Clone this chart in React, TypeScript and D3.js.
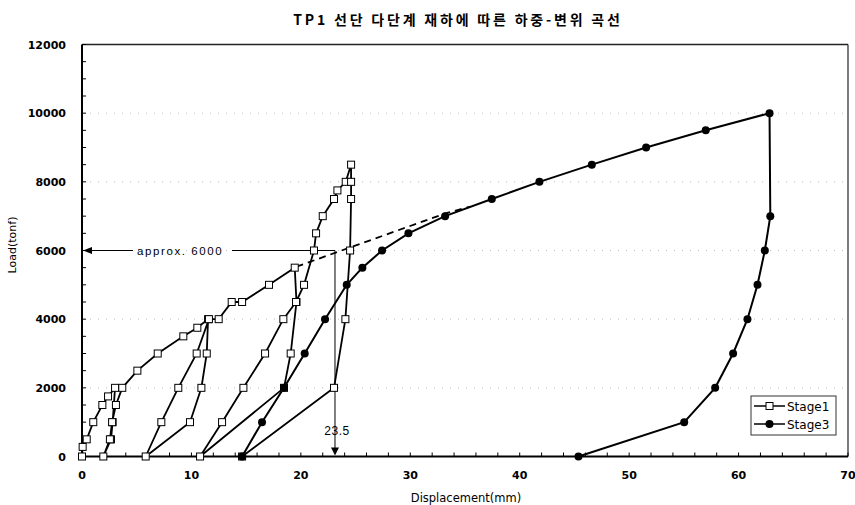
import React from "react";
import * as d3 from "d3";

const title = "TP1 선단 다단계 재하에 따른 하중-변위 곡선";
const xLabel = "Displacement(mm)";
const yLabel = "Load(tonf)";
const xTicks = [0, 10, 20, 30, 40, 50, 60, 70];
const yTicks = [0, 2000, 4000, 6000, 8000, 10000, 12000];
const gridLoads = [2000, 4000, 6000, 8000, 10000];

const stage1X = [0, 0.06, 0.43, 1.03, 1.86, 2.38, 3.02, 2.8, 2.65, 1.95, 2.55, 2.75, 3.1, 3.68,
  5.06, 6.92, 9.26, 10.54, 11.52, 11.4, 10.91, 9.87, 5.82, 7.25, 8.8, 10.48, 11.6, 12.49,
  13.68, 14.63, 17.09, 19.44, 19.6, 19.07, 18.46, 10.79, 12.8, 14.75, 16.73, 18.4, 19.56,
  20.29, 21.2, 21.39, 22.0, 23.03, 23.34, 24.1, 24.59, 24.59, 24.59, 24.5, 24.07, 23.03, 14.63];
const stage1Y = [0, 280, 500, 1000, 1500, 1750, 2000, 1000, 500, 0, 500, 1000, 1500, 2000,
  2500, 3000, 3500, 3750, 4000, 3000, 2000, 1000, 0, 1000, 2000, 3000, 4000, 4000,
  4500, 4500, 5000, 5500, 4500, 3000, 2000, 0, 1000, 2000, 3000, 4000, 4500,
  5000, 6000, 6500, 7000, 7500, 7750, 8000, 8500, 8000, 7500, 6000, 4000, 2000, 0];

const stage3X = [14.63, 16.45, 18.46, 20.35, 22.21, 24.19, 25.62, 27.42, 29.83, 33.18, 37.45,
  41.8, 46.59, 51.55, 57.0, 62.83, 62.9, 62.4, 61.73, 60.81, 59.5, 57.86, 55.03, 45.37];
const stage3Y = [0, 1000, 2000, 3000, 4000, 5000, 5500, 6000, 6500, 7000, 7500,
  8000, 8500, 9000, 9500, 10000, 7000, 6000, 5000, 4000, 3000, 2000, 1000, 0];

const dashX = [19.6, 33.2, 35.5];
const dashY = [5530, 7080, 7280];

const approxLoad = 6000;
const approxDisp = 23.12;
const approxText = "approx. 6000";
const dispText = "23.5";
const legendNames = ["Stage1", "Stage3"];

export default function App() {
  const W = 855, H = 505;
  const x = d3.scaleLinear().domain([0, 70]).range([82, 848]);
  const y = d3.scaleLinear().domain([0, 12000]).range([456.5, 44.5]);
  const s1 = stage1X.map((v, i) => [v, stage1Y[i]] as [number, number]);
  const s3 = stage3X.map((v, i) => [v, stage3Y[i]] as [number, number]);
  const dsh = dashX.map((v, i) => [v, dashY[i]] as [number, number]);
  const line = d3.line<[number, number]>().x(d => x(d[0])).y(d => y(d[1]));
  const x0 = x(0), x1 = x(70), y0 = y(0), y1 = y(12000);
  const minorY = d3.range(0, 12001, 500);
  const minorX = d3.range(0, 71, 2);
  const tickFont = "'DejaVu Sans', sans-serif";
  const ax = x(approxDisp), ay = y(approxLoad);
  return (
    <svg width={W} height={H} style={{ position: "absolute", left: 0, top: 0, background: "#fff" }}>
      <rect x={0} y={0} width={W} height={H} fill="#fff" />
      <text x={458} y={25} textAnchor="middle" fontFamily="'Noto Sans CJK KR', sans-serif" fontWeight="bold" fontSize={14} letterSpacing={2.8}>{title}</text>
      {gridLoads.map(g => (
        <line key={g} x1={x0} x2={x1} y1={y(g)} y2={y(g)} stroke="#aaa" strokeWidth={0.8} strokeDasharray="1 7" />
      ))}
      <line x1={x0} x2={x1} y1={y1} y2={y1} stroke="#222" strokeWidth={1.5} />
      <line x1={x1} x2={x1} y1={y1} y2={y0} stroke="#222" strokeWidth={1.2} />
      {minorY.map(v => (
        <line key={"my" + v} x1={x0} x2={x0 + 4} y1={y(v)} y2={y(v)} stroke="#000" strokeWidth={1} />
      ))}
      {minorX.map(v => (
        <line key={"mx" + v} x1={x(v)} x2={x(v)} y1={y0} y2={y0 - 4} stroke="#000" strokeWidth={1} />
      ))}
      <line x1={x0} x2={x0} y1={y1} y2={y0} stroke="#000" strokeWidth={2} />
      <line x1={x0} x2={x1} y1={y0} y2={y0} stroke="#000" strokeWidth={2} />
      {yTicks.map(v => (
        <text key={"yl" + v} x={66} y={y(v) + 4} textAnchor="end" fontFamily={tickFont} fontWeight="bold" fontSize={11}>{v}</text>
      ))}
      {xTicks.map(v => (
        <text key={"xl" + v} x={x(v)} y={479} textAnchor="middle" fontFamily={tickFont} fontWeight="bold" fontSize={11}>{v}</text>
      ))}
      <text x={466} y={502} textAnchor="middle" fontFamily={tickFont} fontSize={11.5}>{xLabel}</text>
      <text transform={`translate(16,245) rotate(-90)`} textAnchor="middle" fontFamily={tickFont} fontSize={11}>{yLabel}</text>

      {/* annotation */}
      <line x1={x0 + 2} x2={133} y1={ay} y2={ay} stroke="#000" strokeWidth={1} />
      <line x1={232} x2={ax} y1={ay} y2={ay} stroke="#000" strokeWidth={1} />
      <path d={`M${x0 + 1},${ay} L${x0 + 10},${ay - 3.5} L${x0 + 10},${ay + 3.5} Z`} fill="#000" />
      <text x={137} y={ay + 4} fontFamily="'Liberation Sans', Arial, sans-serif" fontSize={11.5} letterSpacing={1.6}>{approxText}</text>
      <line x1={ax} x2={ax} y1={ay} y2={y0 - 8} stroke="#000" strokeWidth={1} />
      <path d={`M${ax},${y0 - 1} L${ax - 4},${y0 - 9} L${ax + 4},${y0 - 9} Z`} fill="#000" />
      <text x={ax + 2} y={435} textAnchor="middle" fontFamily="'Liberation Sans', Arial, sans-serif" fontSize={12} letterSpacing={0.5}>{dispText}</text>

      <path d={line(dsh) || ""} fill="none" stroke="#000" strokeWidth={1.8} strokeDasharray="7 5" />
      <path d={line(s1) || ""} fill="none" stroke="#000" strokeWidth={1.8} />
      <path d={line(s3) || ""} fill="none" stroke="#000" strokeWidth={2} />
      {s1.map((d, i) => (
        <rect key={"s1" + i} x={x(d[0]) - 3.5} y={y(d[1]) - 3.5} width={7} height={7} fill="#fff" stroke="#000" strokeWidth={1} />
      ))}
      {s3.map((d, i) => (
        <circle key={"s3" + i} cx={x(d[0])} cy={y(d[1])} r={4} fill="#000" />
      ))}

      {/* legend */}
      <rect x={751} y={396} width={85} height={39} fill="#fff" stroke="#333" strokeWidth={1} />
      <line x1={754} x2={785} y1={406} y2={406} stroke="#000" strokeWidth={1.5} />
      <rect x={766} y={402.5} width={7} height={7} fill="#fff" stroke="#000" strokeWidth={1} />
      <text x={787} y={410.5} fontFamily={tickFont} fontSize={12}>{legendNames[0]}</text>
      <line x1={754} x2={785} y1={424} y2={424} stroke="#000" strokeWidth={1.5} />
      <circle cx={769.5} cy={424} r={4} fill="#000" />
      <text x={787} y={428.5} fontFamily={tickFont} fontSize={12}>{legendNames[1]}</text>
    </svg>
  );
}
